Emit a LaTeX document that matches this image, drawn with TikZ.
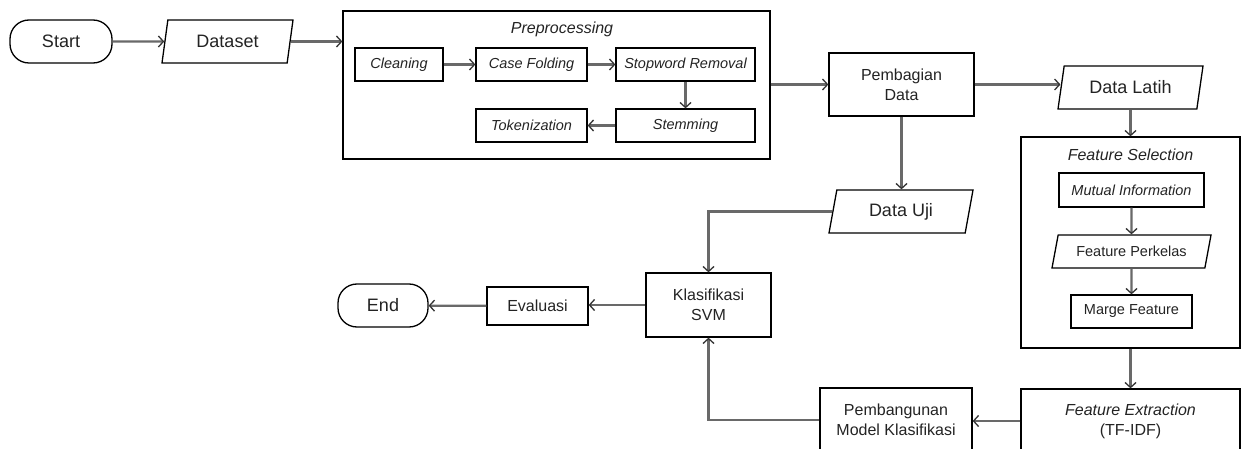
\documentclass[tikz,border=0pt]{standalone}
\usepackage{fontspec}
\setmainfont{Liberation Sans}
\usepackage{tikz}
\usetikzlibrary{positioning, shapes.geometric, arrows.meta}
\definecolor{linegray}{RGB}{105,105,105}
\definecolor{txt}{RGB}{35,35,35}

\begin{document}
\begin{tikzpicture}[
    x=1pt, y=-1pt,
    box/.style={
        rectangle,
        draw=black,
        line width=1.3pt,
        inner sep=0pt,
        align=center,
        text=txt,
        font=\fontsize{16}{20}\selectfont,
    },
    sub/.style={box, font=\fontsize{14.5}{17}\selectfont\itshape},
    term/.style={box, rounded corners=19pt, font=\fontsize{18}{20}\selectfont},
    io/.style={
        trapezium,
        trapezium left angle=65,
        trapezium right angle=115,
        trapezium stretches body,
        draw=black,
        line width=1.3pt,
        inner sep=0pt,
        text=txt,
        font=\fontsize{18}{20}\selectfont,
    },
    title/.style={text=txt, inner sep=0pt, font=\fontsize{16}{20}\selectfont\itshape},
    flow/.style={-{Straight Barb[length=5pt, width=11pt, line width=1.3pt, color=black!80]}, line width=2.3pt, color=linegray}
]
\clip (0,0) rectangle (1244,449);

\node[term, minimum width=102pt, minimum height=43pt] (Start) at (61,41.5) {Start};
\node[io, minimum width=131pt, minimum height=43pt] (Ds) at (227.5,41.5) {Dataset};

\node[box, minimum width=427pt, minimum height=148pt] (Prep) at (556.5,85) {};
\node[title] (PrepT) at (562,29) {Preprocessing};
\node[sub, minimum width=88pt, minimum height=33pt] (Cl) at (399,64.5) {Cleaning};
\node[sub, minimum width=111pt, minimum height=33pt] (Cf) at (531.5,64.5) {Case Folding};
\node[sub, minimum width=139pt, minimum height=33pt] (Sw) at (685.5,64.5) {Stopword Removal};
\node[sub, minimum width=139pt, minimum height=33pt] (St) at (685.5,125.5) {Stemming};
\node[sub, minimum width=111pt, minimum height=33pt] (Tk) at (531.5,125.5) {Tokenization};

\node[box, minimum width=145pt, minimum height=63pt] (Pd) at (901.5,84.5) {Pembagian\\Data};
\node[io, minimum width=145pt, minimum height=43pt] (Dl) at (1130.5,87.5) {Data Latih};
\node[io, minimum width=144pt, minimum height=43pt] (Du) at (901,211.5) {Data Uji};

\node[box, minimum width=219pt, minimum height=211pt] (Fs) at (1130.5,242.5) {};
\node[title] (FsT) at (1130.5,155) {Feature Selection};
\node[sub, minimum width=145pt, minimum height=34pt] (Mi) at (1131.5,190) {Mutual Information};
\node[io, font=\fontsize{14.5}{17}\selectfont, trapezium left angle=60, trapezium right angle=120,
      minimum width=159pt, minimum height=33pt] (Fp) at (1131.5,251.5) {Feature Perkelas};
\node[box, font=\fontsize{14.5}{17}\selectfont, minimum width=121pt, minimum height=33pt] (Mf) at (1131.5,311.5) {Marge Feature};

\node[box, minimum width=219pt, minimum height=64pt] (Fe) at (1130.5,421) {\textit{Feature Extraction}\\(TF-IDF)};
\node[box, minimum width=152pt, minimum height=64pt] (Pm) at (896,420) {Pembangunan\\Model Klasifikasi};
\node[box, minimum width=125pt, minimum height=64pt] (Ks) at (708.5,305) {Klasifikasi\\SVM};
\node[box, minimum width=101pt, minimum height=38pt] (Ev) at (537.5,306) {Evaluasi};
\node[term, minimum width=90pt, minimum height=43pt] (End) at (383,305.5) {End};

\draw[flow] (Start) -- (Ds);
\draw[flow] (Ds.east) -- (Ds.east -| Prep.west);
\draw[flow] (Cl) -- (Cf);
\draw[flow] (Cf) -- (Sw);
\draw[flow] (Sw) -- (St);
\draw[flow] (St) -- (Tk);
\draw[flow] (Prep.east |- Pd.west) -- (Pd.west);
\draw[flow] (Pd.east) -- (Pd.east -| Dl.west);
\draw[flow] (Dl.south) -- (Dl.south |- Fs.north);
\draw[flow] (Mi) -- (Fp);
\draw[flow] (Fp) -- (Mf);
\draw[flow] (Fs.south) -- (Fe.north);
\draw[flow] (Pd.south) -- (Pd.south |- Du.north);
\draw[flow] (Fe.west) -- (Fe.west -| Pm.east);
\draw[flow] (Pm.west) -| (Ks.south);
\draw[flow] (Du.west) -| (Ks.north);
\draw[flow] (Ks.west) -- (Ks.west -| Ev.east);
\draw[flow] (Ev) -- (End);
\end{tikzpicture}
\end{document}
